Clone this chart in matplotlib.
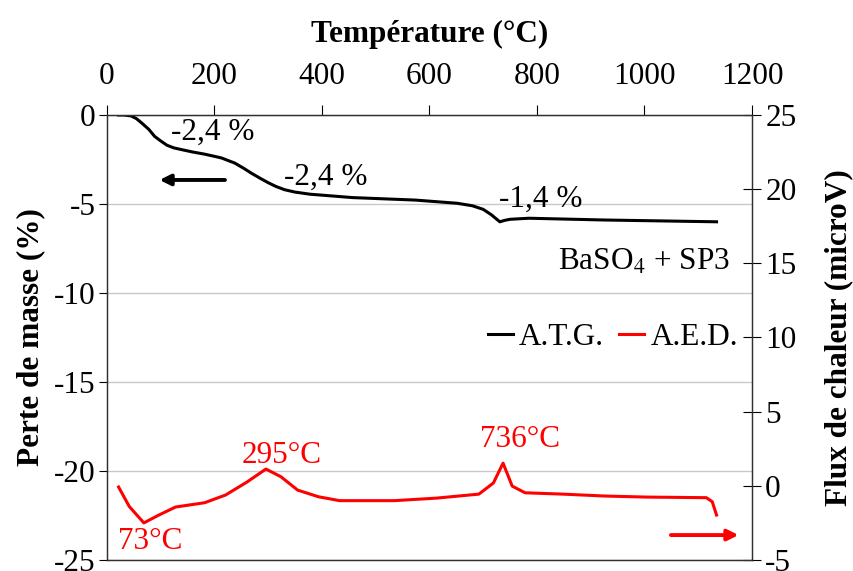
import matplotlib
matplotlib.use("Agg")
import matplotlib.pyplot as plt

plt.rcParams['font.family'] = ['Liberation Serif', 'DejaVu Serif']
plt.rcParams['mathtext.fontset'] = 'stix'
plt.rcParams['axes.unicode_minus'] = False

# A.T.G. curve (mass loss, %)
atg_temp = [22, 32, 45, 55, 65, 78, 89, 100, 112, 125, 143, 160, 182, 200, 214, 225,
            238, 255, 269, 285, 300, 315, 331, 350, 378, 457, 574, 652, 680, 700, 715,
            731, 740, 750, 785, 927, 1134]
atg_mass = [0.0, 0.0, -0.05, -0.2, -0.45, -0.8, -1.2, -1.45, -1.7, -1.85, -1.97, -2.08,
            -2.2, -2.32, -2.42, -2.55, -2.7, -3.0, -3.27, -3.55, -3.8, -4.02, -4.2, -4.33,
            -4.45, -4.64, -4.78, -4.96, -5.1, -5.3, -5.6, -6.0, -5.92, -5.86, -5.8, -5.9, -6.0]

# A.E.D. curve (heat flow, microV)
aed_temp = [22, 42, 69, 97, 128, 182, 221, 261, 296, 324, 355, 394, 433, 535, 613,
            692, 719, 737, 754, 778, 848, 927, 1005, 1115, 1126, 1134]
aed_flux = [-0.08, -1.4, -2.5, -1.97, -1.43, -1.14, -0.62, 0.26, 1.13, 0.61, -0.29, -0.74,
            -1.0, -1.0, -0.83, -0.56, 0.19, 1.53, -0.02, -0.47, -0.56, -0.69, -0.76, -0.8,
            -1.07, -1.97]

mass_steps = ['-2,4 %', '-2,4 %', '-1,4 %']
peaks = ['73°C', '295°C', '736°C']

fs = 22.5
fig = plt.figure(figsize=(8.54, 5.71), dpi=100)
ax = fig.add_axes([0.125, 0.0193, 0.7556, 0.7793])
ax2 = ax.twinx()

ax.set_xlim(0, 1200)
ax.set_ylim(-25, 0)
ax2.set_ylim(-5, 25)
ax.set_xticks(range(0, 1201, 200))
ax.set_yticks(range(-25, 1, 5))
ax2.set_yticks(range(-5, 26, 5))

ax.xaxis.tick_top()
ax.xaxis.set_label_position('top')
ax.set_xlabel('Température (°C)', fontsize=fs, fontweight='bold', labelpad=15)
ax.set_ylabel('Perte de masse (%)', fontsize=fs, fontweight='bold', labelpad=6)
ax2.set_ylabel('Flux de chaleur (microV)', fontsize=fs, fontweight='bold', labelpad=20)

ax.grid(axis='y', color='#c8c8c8', linewidth=1)
ax.set_axisbelow(True)
ax.tick_params(axis='x', direction='out', length=7, width=0.8, labelsize=fs, pad=10)
ax.tick_params(axis='y', direction='out', length=6, width=0.8, labelsize=fs, pad=2)
ax2.tick_params(axis='y', direction='inout', length=13, width=0.8, labelsize=fs, pad=3)
for a in (ax, ax2):
    for s in a.spines.values():
        s.set_linewidth(0.9)
        s.set_color('#303030')

l1, = ax.plot(atg_temp, atg_mass, color='black', linewidth=2.2, label='A.T.G.')
l2, = ax2.plot(aed_temp, aed_flux, color='red', linewidth=2.2, label='A.E.D.')

# mass loss labels
for txt, x, y in zip(mass_steps, [197, 407, 807], [-1.0, -3.5, -4.75]):
    ax.text(x, y, txt, fontsize=fs, ha='center', va='center')

# peak labels
for txt, x, y in zip(peaks, [80, 326, 769], [-3.77, 2.07, 3.1]):
    ax2.text(x, y, txt, fontsize=fs, ha='center', va='center', color='red')

# axis arrows
ax.annotate('', xy=(93, -3.65), xytext=(225, -3.65),
            arrowprops=dict(arrowstyle='-|>', color='black', lw=2.8, mutation_scale=16))
ax2.annotate('', xy=(1180, -3.32), xytext=(1044, -3.32),
             arrowprops=dict(arrowstyle='-|>', color='red', lw=2.8, mutation_scale=16))

ax.text(0.966, 0.67, r'BaSO$_4$ + SP3', transform=ax.transAxes, fontsize=fs,
        ha='right', va='center')
ax.legend(handles=[l1, l2], loc='center right', bbox_to_anchor=(0.998, 0.501),
          ncol=2, frameon=False, fontsize=fs, handlelength=0.8, handletextpad=0.2,
          columnspacing=0.5, borderaxespad=0)

fig.savefig('out.png', dpi=100)
